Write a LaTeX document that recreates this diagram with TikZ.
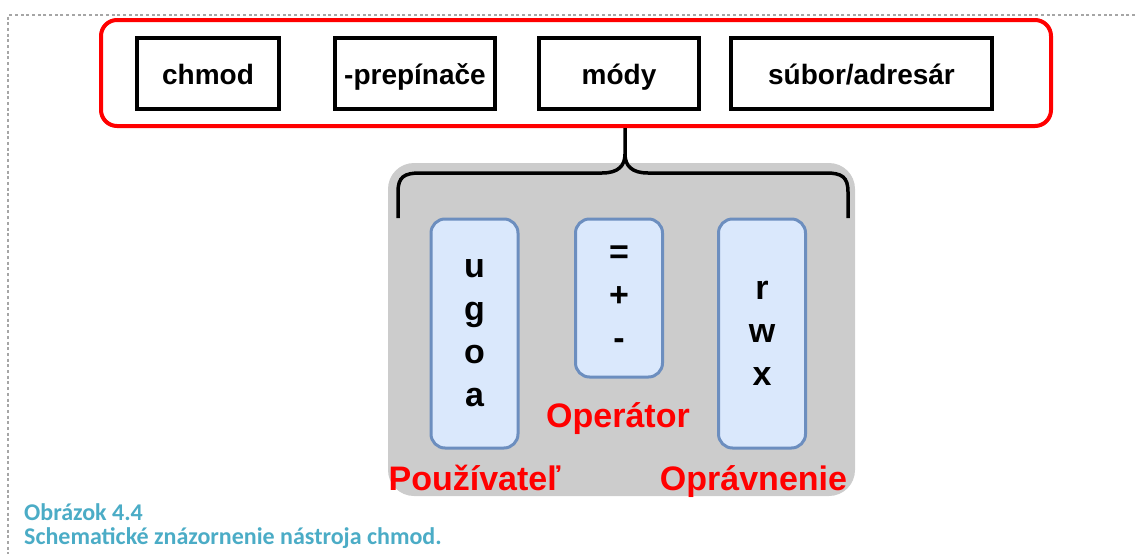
\documentclass[tikz,border=0pt]{standalone}
\usepackage{fontspec}
\setmainfont{Liberation Sans}
\newfontfamily\capfont{Carlito}
\definecolor{boxfill}{HTML}{DAE8FC}
\definecolor{boxline}{HTML}{6C8EBF}
\definecolor{capblue}{HTML}{4BACC6}
\definecolor{framegray}{HTML}{A6A6A6}

\tikzstyle{group} = [draw=red,line width=4pt,rounded corners=16pt,rectangle]
\tikzstyle{part} = [draw=black,line width=4pt,rectangle,minimum height=71pt,inner sep=0pt,text height=27pt,text depth=6pt,font=\fontsize{28}{32}\selectfont\bfseries,text centered]
\tikzstyle{field} = [draw=boxline,fill=boxfill,line width=3pt,rounded corners=14pt,rectangle,minimum width=87pt,inner sep=0pt,align=center,font=\fontsize{34}{43}\selectfont\bfseries]
\tikzstyle{tag} = [text=red,anchor=base,inner sep=0pt,font=\fontsize{34}{40}\selectfont\bfseries]
\tikzstyle{caption} = [text=capblue,anchor=base west,inner sep=0pt,font=\capfont\fontsize{24}{24}\selectfont\bfseries]

\begin{document}
\begin{tikzpicture}[x=1pt,y=-1pt]
	\useasboundingbox (0,0) rectangle (1135,554);
	\draw [framegray,line width=2.5pt,dash pattern=on 3pt off 2.7pt] (1135,15) -- (8,15) -- (8,554);
	% command line
	\node (cmd) [group,minimum width=950pt,minimum height=106pt] at (576,73) {};
	\node (chmod) [part,minimum width=142pt] at (208,73.5) {chmod};
	\node (opts) [part,minimum width=160pt] at (415,73.5) {-prepínače};
	\node (mody) [part,minimum width=160pt] at (619,73.5) {módy};
	\node (file) [part,minimum width=261pt] at (861.5,73.5) {súbor/adresár};
	% mode parts
	\node (modes) [rectangle,fill=black!20,rounded corners=26pt,minimum width=467pt,minimum height=333pt] at (621.5,329.5) {};
	\node (who) [field,minimum height=229pt] at (474.5,333.5) {u\\g\\o\\a};
	\node (op) [field,minimum height=158pt] at (619,298) {=\\+\\-};
	\node (perm) [field,minimum height=229pt] at (762,333.5) {r\\w\\x};
	\node (whotag) [tag] at (474.5,490) {Používateľ};
	\node (optag) [tag] at (618,427) {Operátor};
	\node (permtag) [tag] at (753.5,490) {Oprávnenie};
	% brace
	\coordinate (tip) at (cmd.south -| 625,0);
	\coordinate (bl) at (398,218);
	\coordinate (br) at (848,218);
	\draw [line width=3.5pt] (bl) -- (398,192) .. controls (398,177) and (404,173) .. (420,173) -- (602,173) .. controls (618,173) and (625,166) .. (625,154) -- (tip);
	\draw [line width=3.5pt] (625,154) .. controls (625,166) and (632,173) .. (648,173) -- (826,173) .. controls (842,173) and (848,177) .. (848,192) -- (br);
	% caption
	\node (capnum) [caption] at (24,520) {Obrázok 4.4};
	\node (captext) [caption] at (24,544) {Schematické znázornenie nástroja chmod.};
\end{tikzpicture}
\end{document}
